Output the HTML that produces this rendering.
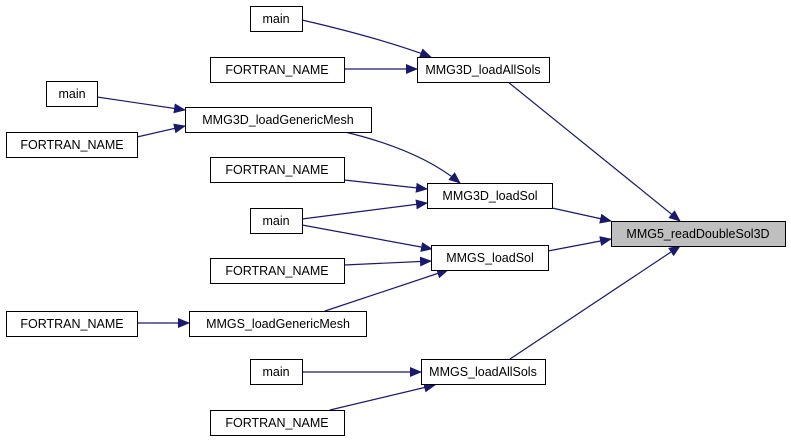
<!DOCTYPE html>
<html><head><style>
body{margin:0;background:#fff;}
svg text{font-family:"Liberation Sans",Arial,sans-serif;font-size:12.5px;fill:#000;}
</style></head><body>
<svg width="791" height="443" viewBox="0 0 791 443" xmlns="http://www.w3.org/2000/svg">
<defs><marker id="a" markerWidth="12" markerHeight="10" refX="11" refY="5" orient="auto" markerUnits="userSpaceOnUse"><path d="M0,0 L12,5 L0,10 z" fill="#191970"/></marker></defs>
<g stroke="#191970" stroke-width="1.2" fill="none" marker-end="url(#a)">
<path d="M302,20 Q380,38 431,57"/>
<path d="M344,69 L417,69"/>
<path d="M508,82 L680,221"/>
<path d="M97,97 L185,110"/>
<path d="M137,137 L185,126"/>
<path d="M345,132 Q420,150 460,183"/>
<path d="M344,180 L427,189"/>
<path d="M302,219 L427,203"/>
<path d="M302,225 L432,249"/>
<path d="M552,208 L611,221"/>
<path d="M344,265 L431,261"/>
<path d="M548,251 L611,239"/>
<path d="M137,323 L189,323"/>
<path d="M325,311 L448,270"/>
<path d="M510,359 L680,246"/>
<path d="M302,372 L421,372"/>
<path d="M330,410 L435,385"/>
</g>
<g stroke="#000" stroke-width="1" fill="#fff">
<rect x="250.5" y="6.5" width="52" height="25"/>
<rect x="210.5" y="57.5" width="134" height="25"/>
<rect x="417.5" y="57.5" width="132" height="25"/>
<rect x="46.5" y="81.5" width="51" height="25"/>
<rect x="185.5" y="107.5" width="186" height="25"/>
<rect x="6.5" y="132.5" width="131" height="25"/>
<rect x="210.5" y="157.5" width="134" height="25"/>
<rect x="427.5" y="183.5" width="125" height="25"/>
<rect x="250.5" y="208.5" width="52" height="25"/>
<rect x="611.5" y="221.5" width="174" height="25" fill="#bfbfbf"/>
<rect x="431.5" y="245.5" width="117" height="25"/>
<rect x="210.5" y="258.5" width="134" height="25"/>
<rect x="6.5" y="311.5" width="131" height="25"/>
<rect x="189.5" y="311.5" width="177" height="25"/>
<rect x="250.5" y="359.5" width="52" height="25"/>
<rect x="421.5" y="359.5" width="124" height="25"/>
<rect x="210.5" y="410.5" width="134" height="25"/>
</g>
<g text-anchor="middle">
<text x="276" y="23">main</text>
<text x="277" y="74">FORTRAN_NAME</text>
<text x="483" y="74">MMG3D_loadAllSols</text>
<text x="72" y="98">main</text>
<text x="278" y="124">MMG3D_loadGenericMesh</text>
<text x="72" y="149">FORTRAN_NAME</text>
<text x="277" y="174">FORTRAN_NAME</text>
<text x="490" y="200">MMG3D_loadSol</text>
<text x="276" y="225">main</text>
<text x="698" y="238">MMG5_readDoubleSol3D</text>
<text x="490" y="262">MMGS_loadSol</text>
<text x="277" y="275">FORTRAN_NAME</text>
<text x="72" y="328">FORTRAN_NAME</text>
<text x="278" y="328">MMGS_loadGenericMesh</text>
<text x="276" y="376">main</text>
<text x="483" y="376">MMGS_loadAllSols</text>
<text x="277" y="427">FORTRAN_NAME</text>
</g>
</svg>
</body></html>
